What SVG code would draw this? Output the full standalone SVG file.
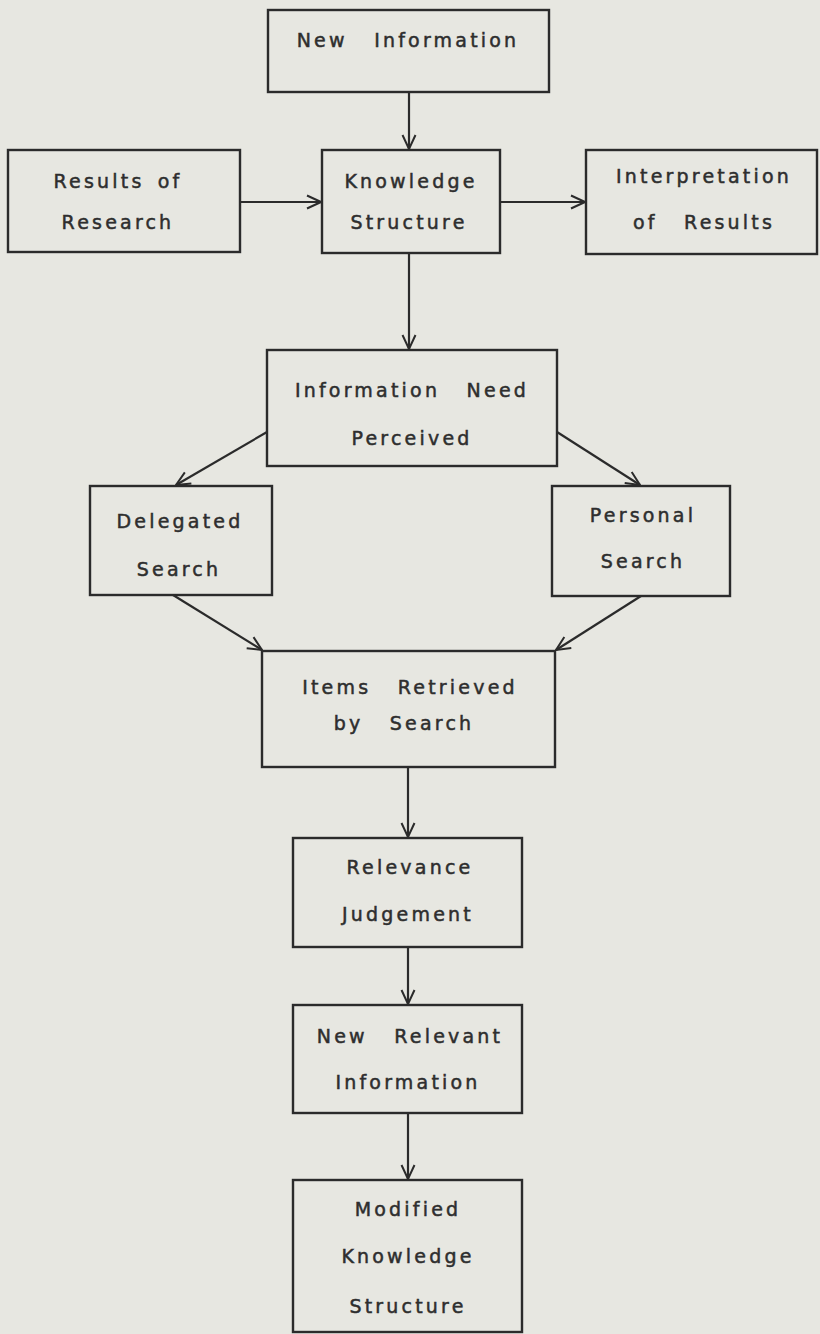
<svg xmlns="http://www.w3.org/2000/svg" width="820" height="1334" viewBox="0 0 820 1334">
<defs>
<style>
.bx{fill:none;stroke:#2b2b2b;stroke-width:2.4}
.t{font-family:"DejaVu Sans",sans-serif;font-size:19px;fill:#2e2e2e;stroke:#2e2e2e;stroke-width:0.5;text-anchor:middle;letter-spacing:3.2px;word-spacing:4px;white-space:pre}
.c{fill:none;stroke:#2b2b2b;stroke-width:2.2}
</style>
<marker id="ah" viewBox="0 0 16 16" refX="15" refY="8" markerWidth="16" markerHeight="16" markerUnits="userSpaceOnUse" orient="auto">
<path d="M1,1.5 L15,8 L1,14.5" fill="none" stroke="#2b2b2b" stroke-width="2"/>
</marker>
</defs>
<rect width="820" height="1334" fill="#e7e7e1"/>
<g id="n-new-info"><rect class="bx" x="268" y="10" width="281" height="82"/><text class="t" x="408" y="47" xml:space="preserve">New  Information</text></g>
<g id="n-results"><rect class="bx" x="8" y="150" width="232" height="102"/><text class="t" x="118" y="188">Results of</text><text class="t" x="118" y="229">Research</text></g>
<g id="n-ks"><rect class="bx" x="322" y="150" width="178" height="103"/><text class="t" x="411" y="188">Knowledge</text><text class="t" x="409" y="229">Structure</text></g>
<g id="n-interp"><rect class="bx" x="586" y="150" width="231" height="104"/><text class="t" x="704" y="183">Interpretation</text><text class="t" x="704" y="229" xml:space="preserve">of  Results</text></g>
<g id="n-need"><rect class="bx" x="267" y="350" width="290" height="116"/><text class="t" x="412" y="397" xml:space="preserve">Information  Need</text><text class="t" x="412" y="445">Perceived</text></g>
<g id="n-deleg"><rect class="bx" x="90" y="486" width="182" height="109"/><text class="t" x="180" y="528">Delegated</text><text class="t" x="179" y="576">Search</text></g>
<g id="n-personal"><rect class="bx" x="552" y="486" width="178" height="110"/><text class="t" x="643" y="522">Personal</text><text class="t" x="643" y="568">Search</text></g>
<g id="n-items"><rect class="bx" x="262" y="651" width="293" height="116"/><text class="t" x="410" y="694" xml:space="preserve">Items  Retrieved</text><text class="t" x="404" y="730" xml:space="preserve">by  Search</text></g>
<g id="n-relev"><rect class="bx" x="293" y="838" width="229" height="109"/><text class="t" x="410" y="874">Relevance</text><text class="t" x="408" y="921">Judgement</text></g>
<g id="n-newrel"><rect class="bx" x="293" y="1005" width="229" height="108"/><text class="t" x="410" y="1043" xml:space="preserve">New  Relevant</text><text class="t" x="408" y="1089">Information</text></g>
<g id="n-modified"><rect class="bx" x="293" y="1180" width="229" height="152"/><text class="t" x="408" y="1216">Modified</text><text class="t" x="408" y="1263">Knowledge</text><text class="t" x="408" y="1313">Structure</text></g>
<g id="connectors">
<line class="c" x1="409" y1="92" x2="409" y2="149" marker-end="url(#ah)"/>
<line class="c" x1="240" y1="202" x2="321" y2="202" marker-end="url(#ah)"/>
<line class="c" x1="500" y1="202" x2="585" y2="202" marker-end="url(#ah)"/>
<line class="c" x1="409" y1="253" x2="409" y2="349" marker-end="url(#ah)"/>
<line class="c" x1="267" y1="432" x2="176" y2="485" marker-end="url(#ah)"/>
<line class="c" x1="557" y1="432" x2="640" y2="485" marker-end="url(#ah)"/>
<line class="c" x1="173" y1="595" x2="262" y2="650" marker-end="url(#ah)"/>
<line class="c" x1="641" y1="596" x2="556" y2="650" marker-end="url(#ah)"/>
<line class="c" x1="408" y1="767" x2="408" y2="837" marker-end="url(#ah)"/>
<line class="c" x1="408" y1="947" x2="408" y2="1004" marker-end="url(#ah)"/>
<line class="c" x1="408" y1="1113" x2="408" y2="1179" marker-end="url(#ah)"/>
</g>
</svg>
